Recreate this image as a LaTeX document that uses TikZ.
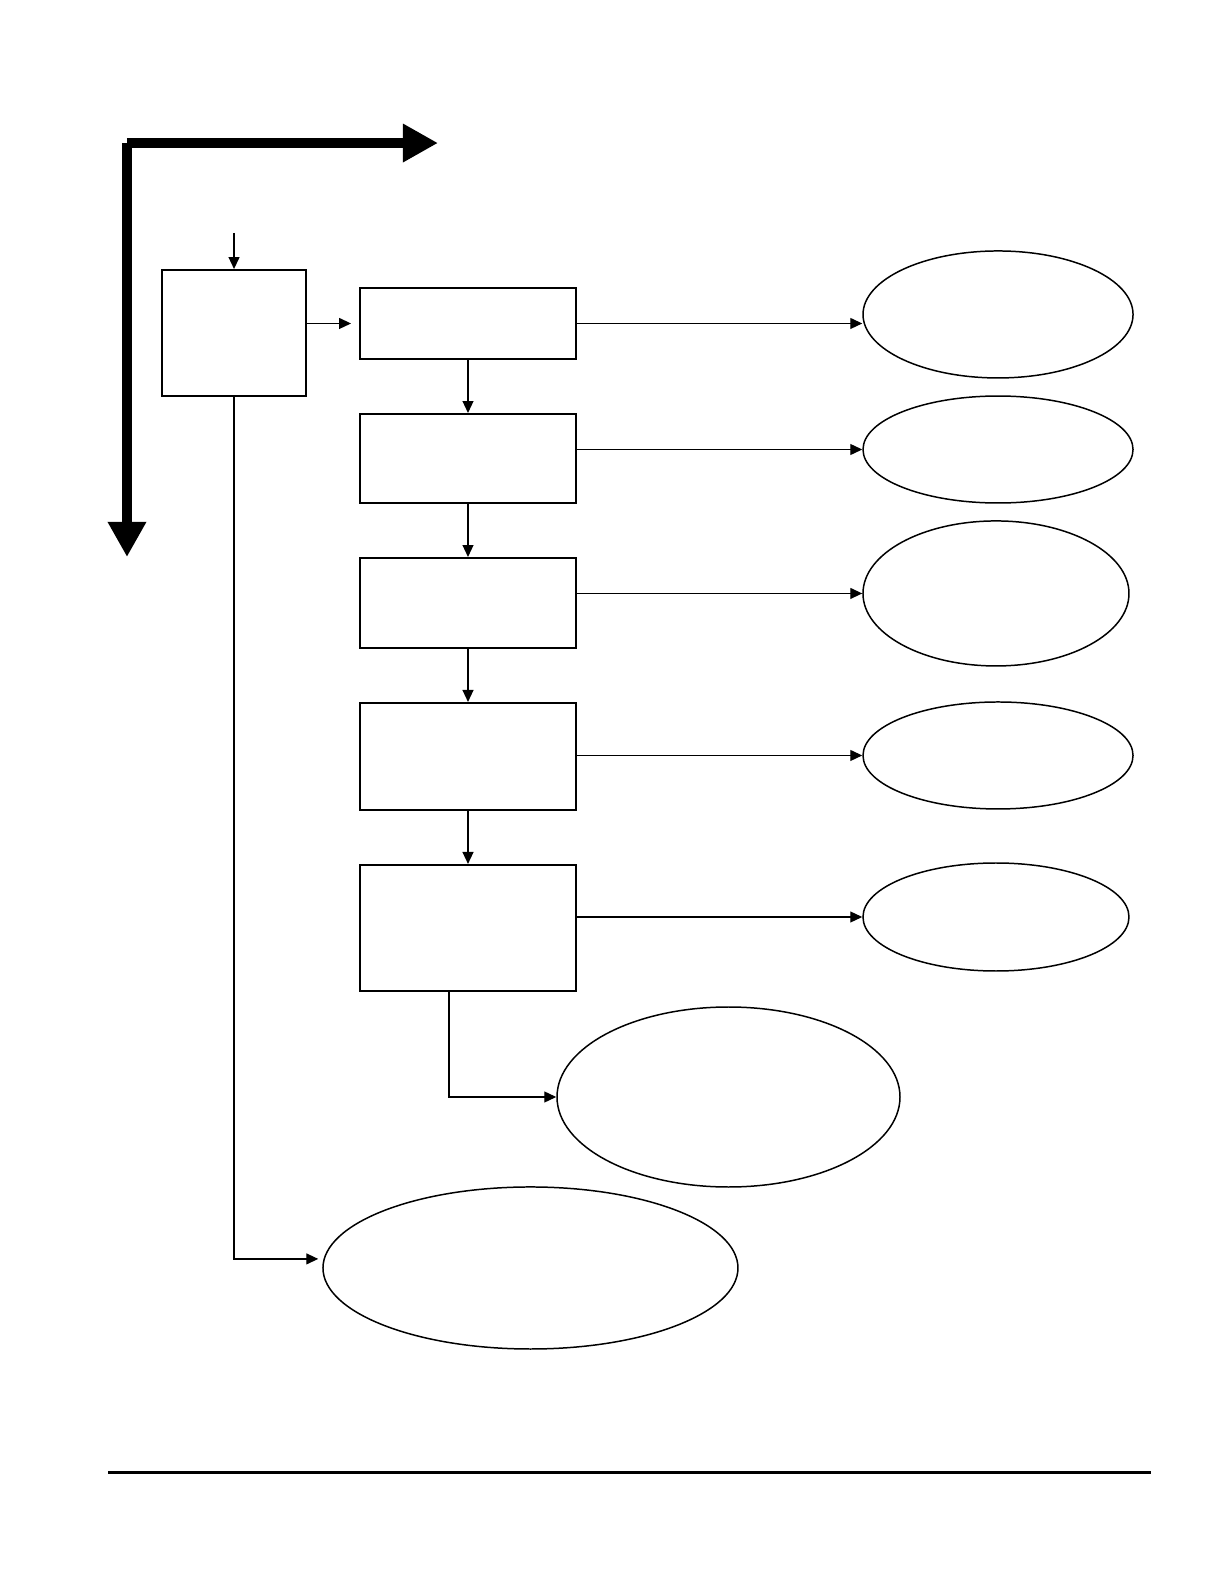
\documentclass[tikz,border=0pt]{standalone}
\usepackage{tikz}
\usetikzlibrary{arrows.meta,calc,shapes.geometric,positioning}

\begin{document}
\begin{tikzpicture}[
  box/.style={draw, line width=1pt, inner sep=0pt, minimum width=3.81cm},
  oval/.style={draw, ellipse, line width=0.75pt, inner sep=0pt},
  conn/.style={-{Triangle[length=6pt,width=5.5pt]}, line width=0.65pt},
  bigarrow/.style={-{Triangle[length=0.62cm,width=0.64cm]}, line width=5.5pt},
]
  \useasboundingbox (0,0) rectangle (21.59,27.94);
  % Axes
  \coordinate (corner) at (2.24,25.417);
  \coordinate (xend) at (7.726,25.417);
  \coordinate (yend) at (2.24,18.115);
  \draw[bigarrow] (corner) -- (xend);
  \draw[bigarrow] (corner) -- (yend);
  % Start box
  \node[box, minimum width=2.54cm, minimum height=2.222cm] (start) at (4.128,22.066) {};
  \coordinate (input) at (4.128,23.83);
  \draw[conn] (input) -- (start.north);
  % Chain of boxes
  \node[box, minimum height=1.252cm] (b1) at (8.255,22.234) {};
  \node[box, minimum height=1.57cm, below=0.935cm of b1] (b2) {};
  \node[box, minimum height=1.587cm, below=0.935cm of b2] (b3) {};
  \node[box, minimum height=1.887cm, below=0.935cm of b3] (b4) {};
  \node[box, minimum height=2.222cm, below=0.935cm of b4] (b5) {};
  \draw[conn, shorten >=4pt] (start.east |- b1.west) -- (b1.west);
  \foreach \i/\j in {b1/b2, b2/b3, b3/b4, b4/b5}
    \draw[conn] (\i.south) -- (\j.north);
  % Outcomes
  \node[oval, minimum width=4.763cm, minimum height=2.24cm] (e1) at (17.604,22.393) {};
  \node[oval, minimum width=4.763cm, minimum height=1.887cm] (e2) at (17.604,20.011) {};
  \node[oval, minimum width=4.692cm, minimum height=2.558cm] (e3) at (17.568,17.472) {};
  \node[oval, minimum width=4.763cm, minimum height=1.887cm] (e4) at (17.604,14.614) {};
  \node[oval, minimum width=4.692cm, minimum height=1.905cm] (e5) at (17.568,11.765) {};
  \draw[conn] (b1.east) -- (b1.east -| e1.west);
  \foreach \i in {2,...,5}
    \draw[conn] (b\i.east |- e\i.west) -- (e\i.west);
  \node[oval, minimum width=6.05cm, minimum height=3.175cm] (e6) at (12.85,8.59) {};
  \node[oval, minimum width=7.32cm, minimum height=2.858cm] (e7) at (9.357,5.574) {};
  \draw[conn] ([xshift=-0.335cm]b5.south) |- (e6.west);
  \draw[conn, shorten >=2pt] (start.south) |- ([yshift=0.16cm]e7.west);
  % Bottom rule
  \coordinate (ruleL) at (1.905,1.958);
  \coordinate (ruleR) at (20.303,1.958);
  \draw[line width=1.5pt] (ruleL) -- (ruleR);
\end{tikzpicture}
\end{document}
